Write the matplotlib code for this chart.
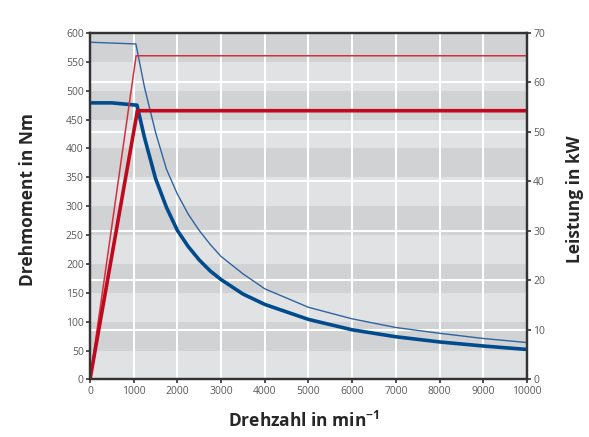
import matplotlib
matplotlib.use('Agg')
import matplotlib.pyplot as plt
from matplotlib.transforms import blended_transform_factory

plt.rcParams['font.family'] = ['Open Sans', 'DejaVu Sans']
plt.rcParams['mathtext.fontset'] = 'custom'
plt.rcParams['mathtext.rm'] = 'Open Sans'
plt.rcParams['mathtext.bf'] = 'Open Sans:bold'

# torque curves (Nm over rpm)
rpm_peak = [0, 1050, 1250, 1500, 1750, 2000, 2250, 2500, 2750, 3000, 3500, 4000,
            5000, 6000, 7000, 8000, 9000, 10000]
torque_peak = [584, 581, 505, 428, 364, 321, 286, 258, 234, 213, 183, 157,
               125, 105, 90, 80, 71, 64]
rpm_cont = [0, 500, 1075, 1250, 1500, 1750, 2000, 2250, 2500, 2750, 3000, 3500, 4000,
            5000, 6000, 7000, 8000, 9000, 10000]
torque_cont = [479, 479, 475, 418, 348, 298, 258, 230, 207, 188, 173, 148, 130,
               104, 86, 74, 65, 58, 52]

# power curves (kW over rpm)
rpm_power_peak = [0, 1055, 10000]
power_peak = [0, 65.4, 65.4]
rpm_power_cont = [0, 1085, 10000]
power_cont = [0, 54.3, 54.3]

x_ticks = list(range(0, 10001, 1000))
torque_ticks = list(range(0, 601, 50))
power_ticks = list(range(0, 71, 10))
dark_bands = [(50, 100), (150, 200), (250, 300), (350, 400), (450, 500), (550, 600)]

blue = '#004b8d'
blue_thin = '#2f64a2'
red = '#c0091d'
red_thin = '#d3303f'
tick_grey = '#5a5a5a'
label_dark = '#262626'

fig = plt.figure(figsize=(5.89, 4.37), dpi=100)
ax = fig.add_axes([0.1528, 0.1316, 0.7419, 0.7929])
ax2 = ax.twinx()

ax.set_xlim(0, 10000)
ax.set_ylim(0, 600)
ax2.set_ylim(0, 70)

# background bands
ax.set_facecolor('#e1e2e4')
for lo, hi in dark_bands:
    ax.axhspan(lo, hi, color='#d1d2d4', lw=0, zorder=0)

# white grid: verticals per 1000 rpm, horizontals per 10 kW
for xv in x_ticks[1:-1]:
    ax.axvline(xv, color='white', lw=1.5, zorder=1)
kw_trans = blended_transform_factory(ax.transAxes, ax2.transData)
for kw in power_ticks[1:-1]:
    ax.plot([0, 1], [kw, kw], color='white', lw=1.5, transform=kw_trans, zorder=1)

ax.plot(rpm_peak, torque_peak, color=blue_thin, lw=1.0, zorder=3)
ax.plot(rpm_cont, torque_cont, color=blue, lw=2.6, zorder=3, solid_joinstyle='round')
ax.plot(rpm_power_peak, power_peak, color=red_thin, lw=1.1, zorder=3, transform=ax2.transData)
ax.plot(rpm_power_cont, power_cont, color=red, lw=2.6, zorder=3, transform=ax2.transData)
ax.set_xlim(0, 10000)
ax.set_ylim(0, 600)

ax.set_xticks(x_ticks)
ax.set_yticks(torque_ticks)
ax2.set_yticks(power_ticks)

for a in (ax, ax2):
    for s in a.spines.values():
        s.set_color('#333333')
        s.set_linewidth(1.6)
    a.tick_params(colors='#333333', labelcolor=tick_grey, labelsize=7.5,
                  length=3, width=1.2, pad=1.5)

ax.set_xlabel(r'Drehzahl in min$^{\mathbf{-1}}$', fontsize=12.5, fontweight='bold', color=label_dark)
ax.set_ylabel('Drehmoment in Nm', fontsize=12.5, fontweight='bold', color=label_dark)
ax2.set_ylabel('Leistung in kW', fontsize=12.5, fontweight='bold', color=label_dark)
ax.xaxis.set_label_coords(0.49, -0.09)
ax.yaxis.set_label_coords(-0.122, 0.518)
ax2.yaxis.set_label_coords(1.09, 0.52)

fig.savefig('out.png', dpi=100)
